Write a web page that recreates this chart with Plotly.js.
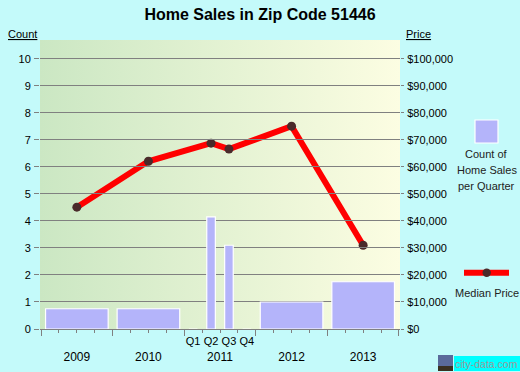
<!DOCTYPE html>
<html>
<head>
<meta charset="utf-8">
<script src="https://cdn.plot.ly/plotly-3.0.1.min.js"></script>
<style>html,body{margin:0;padding:0;background:#c4fafa;}#chart{width:520px;height:372px;}</style>
</head>
<body>
<div id="chart"></div>
<script>
// ---- data ----
var years = ['2009', '2010', '2011', '2012', '2013'];
var quarterLabels = ['Q1', 'Q2', 'Q3', 'Q4'];
var quarterlyYear = '2011';
// average count of home sales per quarter for whole-year bars (2011 is shown by quarter)
var annualYears = ['2009', '2010', '2012', '2013'];
var annualCounts = [0.75, 0.75, 1, 1.75];
var quarterCounts2011 = [0, 4.15, 3.1, 0];
// median price points
var priceYears = ['2009', '2010', '2011', '2011', '2012', '2013'];
var priceQuarters = [null, null, 'Q2', 'Q3', null, null];
var medianPrices = [45100, 62100, 68800, 66600, 75100, 31000];
var priceTicks = [0, 10000, 20000, 30000, 40000, 50000, 60000, 70000, 80000, 90000, 100000];
var priceTickText = priceTicks.map(function (v) { return '$' + v.toLocaleString('en-US'); });

// ---- helpers: position on a quarter scale ----
function yearCenter(y) { return years.indexOf(y) * 4 + 2; }
function quarterCenter(y, q) { return years.indexOf(y) * 4 + quarterLabels.indexOf(q) + 0.5; }

var barColor = '#b4b4fa';
var gray = '#808080';
var font = 'Arial, "Liberation Sans", sans-serif';

var annualBars = {
  type: 'bar',
  x: annualYears.map(yearCenter),
  y: annualCounts,
  width: annualYears.map(function () { return 3.5; }),
  marker: { color: barColor, line: { color: '#ffffff', width: 1.2 } },
  xaxis: 'x2', yaxis: 'y', hoverinfo: 'y', showlegend: false
};
var quarterBars = {
  type: 'bar',
  x: quarterLabels.map(function (q) { return quarterCenter(quarterlyYear, q); }),
  y: quarterCounts2011,
  width: quarterLabels.map(function () { return 0.48; }),
  marker: { color: barColor, line: { color: '#ffffff', width: 1.2 } },
  xaxis: 'x3', yaxis: 'y', hoverinfo: 'y', showlegend: false
};
var priceLine = {
  type: 'scatter', mode: 'lines+markers',
  x: priceYears.map(function (y, i) { return priceQuarters[i] ? quarterCenter(y, priceQuarters[i]) : yearCenter(y); }),
  y: medianPrices,
  line: { color: '#ff0000', width: 6 },
  marker: { color: '#4a2a2a', size: 9 },
  xaxis: 'x', yaxis: 'y2', showlegend: false
};

function px(v) { return (v - 40) / 360; }
function py(v) { return (329 - v) / 289; }

var gradSvg = '<svg xmlns="http://www.w3.org/2000/svg" width="100" height="100" preserveAspectRatio="none">' +
  '<defs><linearGradient id="g" x1="0" y1="0" x2="1" y2="0">' +
  '<stop offset="0" stop-color="#cbe7c3"/><stop offset="1" stop-color="#fcfde2"/>' +
  '</linearGradient></defs><rect width="100" height="100" fill="url(#g)"/></svg>';

var xr = [-0.06, 20.06];
var layout = {
  width: 520, height: 372,
  margin: { l: 40, r: 120, t: 40, b: 43, pad: 0 },
  paper_bgcolor: '#c4fafa',
  plot_bgcolor: 'rgba(0,0,0,0)',
  font: { family: font, size: 11, color: '#000' },
  barmode: 'overlay',
  title: { text: '<b>Home Sales in Zip Code 51446</b>', x: 0.5, xref: 'container', y: 0.96, yref: 'container', yanchor: 'middle', font: { size: 16, family: font, color: '#000' } },
  images: [{ source: 'data:image/svg+xml;charset=utf-8,' + encodeURIComponent(gradSvg), xref: 'paper', yref: 'paper', x: 0, y: 1, sizex: 1, sizey: 1, sizing: 'stretch', xanchor: 'left', yanchor: 'top', layer: 'below' }],
  xaxis: {
    range: xr, fixedrange: true,
    tickmode: 'array', tickvals: [0, 4, 8, 12, 16, 20], ticktext: ['', '', '', '', '', ''],
    ticks: 'outside', ticklen: 6, tickcolor: gray, tickwidth: 1,
    minor: { dtick: 1, tick0: 0, ticks: 'outside', ticklen: 3, tickcolor: gray, tickwidth: 1, showgrid: false },
    showline: true, linecolor: gray, linewidth: 1, showgrid: false, zeroline: false
  },
  xaxis2: {
    range: xr, overlaying: 'x', anchor: 'y', side: 'bottom', fixedrange: true,
    tickmode: 'array', tickvals: years.map(yearCenter), ticktext: years,
    ticks: '', showline: false, showgrid: false, zeroline: false,
    tickfont: { size: 12, family: font, color: '#000' }, ticklabelstandoff: 19
  },
  xaxis3: {
    range: xr, overlaying: 'x', anchor: 'y', side: 'bottom', fixedrange: true,
    tickmode: 'array', tickvals: quarterLabels.map(function (q) { return quarterCenter(quarterlyYear, q); }), ticktext: quarterLabels,
    ticks: '', showline: false, showgrid: false, zeroline: false,
    tickfont: { size: 11, family: font, color: '#000' }, ticklabelstandoff: 4
  },
  yaxis: {
    range: [0, 10.7], fixedrange: true, tickmode: 'array', tickvals: [0, 1, 2, 3, 4, 5, 6, 7, 8, 9, 10],
    ticks: 'outside', ticklen: 5, tickcolor: gray, showgrid: true, gridcolor: gray, gridwidth: 1,
    zeroline: false, showline: false, tickfont: { size: 11, family: font, color: '#000' }, ticklabelstandoff: 1
  },
  yaxis2: {
    range: [0, 107000], overlaying: 'y', side: 'right', anchor: 'x', fixedrange: true,
    tickmode: 'array', tickvals: priceTicks, ticktext: priceTickText,
    ticks: 'outside', ticklen: 3, tickcolor: gray, showgrid: false, zeroline: false, showline: false,
    tickfont: { size: 11, family: font, color: '#000' }, ticklabelstandoff: 1
  },
  shapes: [
    { type: 'rect', xref: 'paper', yref: 'paper', x0: px(475), x1: px(498), y0: py(143), y1: py(120), fillcolor: barColor, line: { color: '#ffffff', width: 1.2 } },
    { type: 'line', xref: 'paper', yref: 'paper', x0: px(464), x1: px(509), y0: py(272.7), y1: py(272.7), line: { color: '#ff0000', width: 6 } },
    { type: 'circle', xref: 'paper', yref: 'paper', x0: px(482.5), x1: px(490.9), y0: py(276.9), y1: py(268.5), fillcolor: '#4a2a2a', line: { width: 0 } },
    { type: 'rect', xref: 'paper', yref: 'paper', x0: px(454), x1: px(520), y0: py(371), y1: py(356), fillcolor: '#00ffff', line: { width: 0 } },
    { type: 'rect', xref: 'paper', yref: 'paper', x0: px(438), x1: px(453), y0: py(371), y1: py(355), fillcolor: '#5a6a9a', line: { width: 0 } },
    { type: 'rect', xref: 'paper', yref: 'paper', x0: px(438), x1: px(453), y0: py(371), y1: py(366), fillcolor: '#3a3020', line: { width: 0 } }
  ],
  annotations: [
    { text: '<u>Count</u>', xref: 'paper', yref: 'paper', x: px(22.5), y: py(34), showarrow: false, xanchor: 'center', yanchor: 'middle', font: { size: 11 } },
    { text: '<u>Price</u>', xref: 'paper', yref: 'paper', x: px(418), y: py(34), showarrow: false, xanchor: 'center', yanchor: 'middle', font: { size: 11 } },
    { text: 'Count of', xref: 'paper', yref: 'paper', x: px(486.7), y: py(153.5), showarrow: false, xanchor: 'center', yanchor: 'middle', font: { size: 11, color: '#222' } },
    { text: 'Home Sales', xref: 'paper', yref: 'paper', x: px(486.7), y: py(170), showarrow: false, xanchor: 'center', yanchor: 'middle', font: { size: 11, color: '#222' } },
    { text: 'per Quarter', xref: 'paper', yref: 'paper', x: px(486.7), y: py(186), showarrow: false, xanchor: 'center', yanchor: 'middle', font: { size: 11, color: '#222' } },
    { text: 'Median Price', xref: 'paper', yref: 'paper', x: px(486.7), y: py(293), showarrow: false, xanchor: 'center', yanchor: 'middle', font: { size: 11, color: '#222' } },
    { text: 'city-data.com', xref: 'paper', yref: 'paper', x: px(486.5), y: py(363.5), showarrow: false, xanchor: 'center', yanchor: 'middle', borderpad: 0, font: { size: 10.5, color: '#9a9a9a' } }
  ]
};

Plotly.newPlot('chart', [annualBars, quarterBars, priceLine], layout, { displayModeBar: false, staticPlot: true });
</script>
</body>
</html>
